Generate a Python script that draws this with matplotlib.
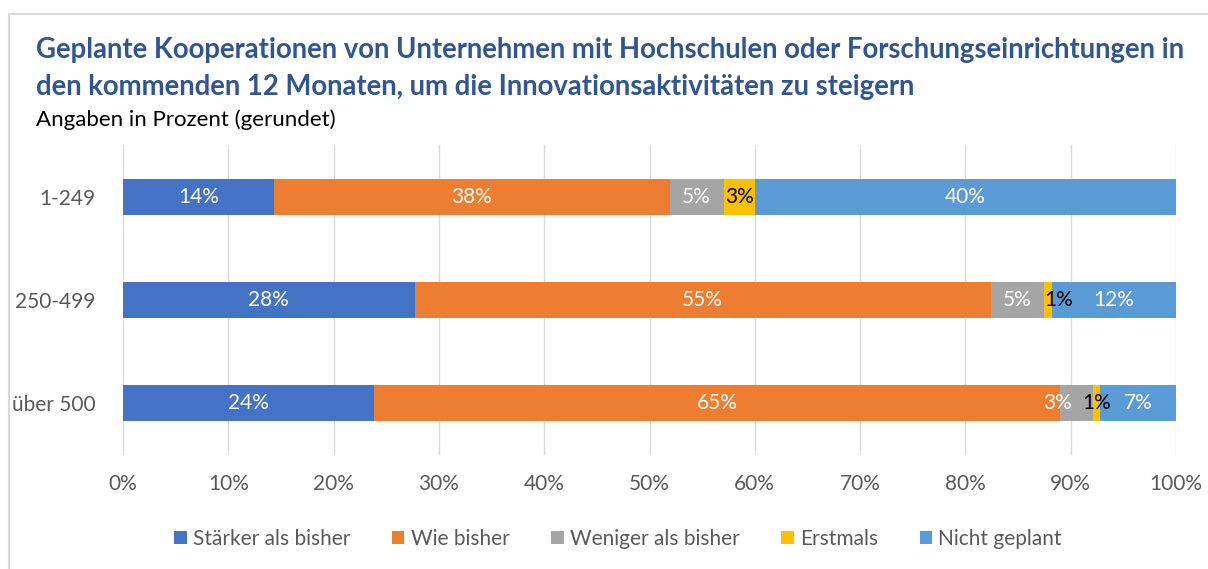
import matplotlib.pyplot as plt
from matplotlib.patches import Rectangle

# size classes (number of employees)
groups = ['1-249', '250-499', 'über 500']

# share per answer, in percent
staerker = [14.3, 27.7, 23.8]
wie_bisher = [37.6, 54.7, 65.2]
weniger = [5.15, 5.05, 3.1]
erstmals = [3.0, 0.73, 0.65]
nicht_geplant = [39.95, 11.8, 7.25]

labels = ['14%', '28%', '24%'], ['38%', '55%', '65%'], ['5%', '5%', '3%'], ['3%', '1%', '1%'], ['40%', '12%', '7%']
series_names = ['Stärker als bisher', 'Wie bisher', 'Weniger als bisher', 'Erstmals', 'Nicht geplant']
ticks = [0, 10, 20, 30, 40, 50, 60, 70, 80, 90, 100]

colors = ['#4472C4', '#ED7D31', '#A5A5A5', '#FFC000', '#5B9BD5']
label_colors = ['white', 'white', 'white', 'black', 'white']
# small nudges (points) where Excel pushed overlapping labels apart
nudge = {(2, 2): -14, (3, 1): 8}

plt.rcParams['font.family'] = ['Lato', 'DejaVu Sans']

fig = plt.figure(figsize=(12.08, 5.69), dpi=100)
fig.patches.append(Rectangle((9 / 1208, -0.1), 1.2, (569 - 14) / 569 + 0.1,
                             transform=fig.transFigure, fill=False,
                             edgecolor='#D9D9D9', linewidth=1.5))

ax = fig.add_axes([123 / 1208, 1 - 455 / 569, (1176 - 123) / 1208, 310 / 569])

data = [staerker, wie_bisher, weniger, erstmals, nicht_geplant]
y = list(range(len(groups)))
left = [0.0] * len(groups)
for si, vals in enumerate(data):
    ax.barh(y, vals, left=left, height=0.35, color=colors[si],
            label=series_names[si], zorder=3)
    for gi, v in enumerate(vals):
        dx = nudge.get((si, gi), 0)
        ax.annotate(labels[si][gi], (left[gi] + v / 2, gi), xytext=(dx, 0),
                    textcoords='offset points', ha='center', va='center',
                    color=label_colors[si], fontsize=15, zorder=4)
    left = [l + v for l, v in zip(left, vals)]

ax.set_xlim(0, 100)
ax.set_ylim(2.5, -0.5)
ax.set_xticks(ticks)
ax.set_xticklabels([f'{t}%' for t in ticks])
ax.set_yticks(y)
ax.set_yticklabels(groups)
ax.tick_params(length=0, labelsize=15, labelcolor='#595959', pad=14)
ax.tick_params(axis='y', pad=20)
ax.grid(axis='x', color='#D9D9D9', linewidth=1, zorder=0)
for s in ax.spines.values():
    s.set_visible(False)

fig.text(36 / 1208, 1 - 50 / 569,
         'Geplante Kooperationen von Unternehmen mit Hochschulen oder Forschungseinrichtungen in',
         fontsize=19.8, fontweight='bold', color='#2F5597', va='center')
fig.text(36 / 1208, 1 - 87 / 569,
         'den kommenden 12 Monaten, um die Innovationsaktivitäten zu steigern',
         fontsize=19.8, fontweight='bold', color='#2F5597', va='center')
fig.text(36 / 1208, 1 - 120 / 569, 'Angaben in Prozent (gerundet)',
         fontsize=16, color='black', va='center')

fig.legend(loc='center', bbox_to_anchor=(618 / 1208, 1 - 539 / 569), ncol=5,
           frameon=False, fontsize=15, handlelength=0.6, handleheight=0.6,
           columnspacing=2.0, handletextpad=0.3, labelcolor='#595959')

fig.savefig('out.png', dpi=100)
